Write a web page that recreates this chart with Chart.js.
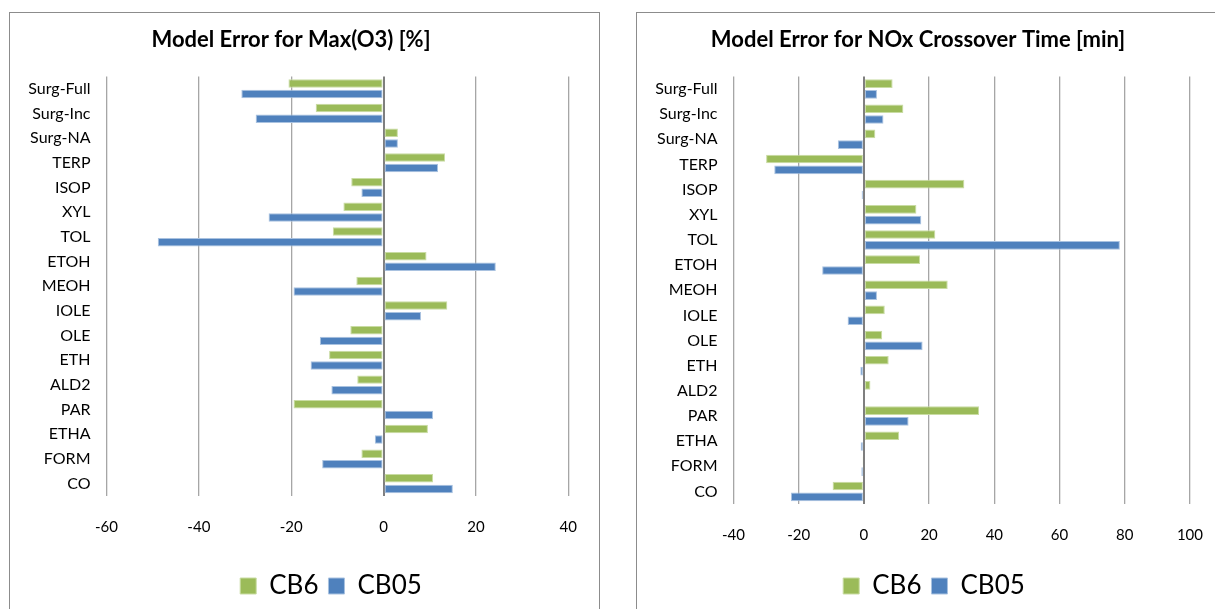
<!DOCTYPE html>
<html>
<head>
<meta charset="utf-8">
<script src="https://cdn.jsdelivr.net/npm/chart.js@4/dist/chart.umd.min.js"></script>
<style>
  html, body { margin: 0; padding: 0; background: #fff; width: 1215px; height: 609px; overflow: hidden; }
  .box { position: absolute; border: 1px solid #8c8c8c; background: #fff; }
  #boxL { left: 9px; top: 12px; width: 589px; height: 640px; }
  #boxR { left: 636px; top: 12px; width: 588px; height: 640px; }
  canvas { display: block; }
</style>
</head>
<body>
<div class="box" id="boxL"><canvas id="cL" width="589" height="596"></canvas></div>
<div class="box" id="boxR"><canvas id="cR" width="588" height="596"></canvas></div>
<script>
// ---- data ----
const categories = ["Surg-Full","Surg-Inc","Surg-NA","TERP","ISOP","XYL","TOL","ETOH","MEOH","IOLE","OLE","ETH","ALD2","PAR","ETHA","FORM","CO"];
const seriesNames = ["CB6","CB05"];

const o3CB6  = [-20.6,-14.7,3.1,13.3,-7.0,-8.7,-11.0,9.3,-5.9,13.8,-7.2,-11.8,-5.7,-19.5,9.6,-4.8,10.7];
const o3CB05 = [-30.8,-27.7,3.1,11.8,-4.8,-24.9,-48.9,24.3,-19.5,8.1,-13.8,-15.8,-11.3,10.7,-1.9,-13.3,15.0];

const noxCB6  = [8.8,12.1,3.5,-30.0,30.8,16.1,21.9,17.2,25.7,6.4,5.6,7.6,2.0,35.3,10.8,-0.4,-9.6];
const noxCB05 = [4.0,6.0,-8.0,-27.5,-0.7,17.6,78.5,-12.8,4.0,-5.0,18.0,-1.1,0.3,13.7,-1.0,-0.8,-22.4];

const o3Ticks  = { min: -60, max: 40, step: 20 };
const noxTicks = { min: -40, max: 100, step: 20 };

const titles = ["Model Error for Max(O3) [%]", "Model Error for NOx Crossover Time [min]"];

// ---- styles ----
const GREEN = "#9BBB59", GREEN_EDGE = "#C9DCA3";
const BLUE = "#4F81BD", BLUE_EDGE = "#A9C2E0";
const FONT = "Lato, 'Liberation Sans', sans-serif";

const legendShift = {
  id: 'legendShift',
  afterLayout(chart, args, opts) {
    const dx = opts.dx || 0;
    if (chart.legend) { chart.legend.left += dx; chart.legend.right += dx; }
  }
};

function makeChart(id, title, cb6, cb05, tk, cfg) {
  return new Chart(document.getElementById(id), {
    type: 'bar',
    data: {
      labels: categories,
      datasets: [
        { label: seriesNames[0], data: cb6, backgroundColor: GREEN, borderColor: GREEN_EDGE, borderWidth: 1, borderSkipped: false },
        { label: seriesNames[1], data: cb05, backgroundColor: BLUE, borderColor: BLUE_EDGE, borderWidth: 1, borderSkipped: false }
      ]
    },
    plugins: [legendShift],
    options: {
      indexAxis: 'y',
      responsive: false,
      animation: false,
      devicePixelRatio: 1,
      categoryPercentage: 0.86,
      barPercentage: 0.8,
      layout: { padding: { left: 0, right: cfg.padR, top: 0, bottom: cfg.padB } },
      scales: {
        x: {
          min: tk.min, max: tk.max,
          ticks: { stepSize: tk.step, color: '#000', font: { family: FONT, size: 15 }, padding: 22 },
          grid: {
            drawTicks: false,
            color: (c) => c.tick && c.tick.value === 0 ? '#7f7f7f' : '#a6a6a6',
            lineWidth: (c) => c.tick && c.tick.value === 0 ? 2 : 1.3
          },
          border: { display: false },
          afterFit: (s) => { s.height = cfg.xH; }
        },
        y: {
          ticks: { color: '#000', font: { family: FONT, size: 16 }, padding: 16 },
          grid: { display: false, drawTicks: false },
          border: { display: false },
          afterFit: (s) => { s.width = 96.5; }
        }
      },
      plugins: {
        title: {
          display: true, text: title, color: '#000',
          font: { family: FONT, size: 22, weight: 'bold', lineHeight: 1.2 },
          padding: { top: 14, bottom: 23 }
        },
        legend: {
          position: 'bottom',
          labels: { color: '#000', font: { family: FONT, size: 26 }, boxWidth: 16, boxHeight: 16, padding: 10 }
        },
        legendShift: { dx: cfg.legendDx },
        tooltip: { enabled: false }
      }
    }
  });
}

makeChart('cL', titles[0], o3CB6, o3CB05, o3Ticks, { padR: 27, padB: 0, xH: 67, legendDx: 40 });
makeChart('cR', titles[1], noxCB6, noxCB05, noxTicks, { padR: 26, padB: 0, xH: 59, legendDx: 16 });
</script>
</body>
</html>
